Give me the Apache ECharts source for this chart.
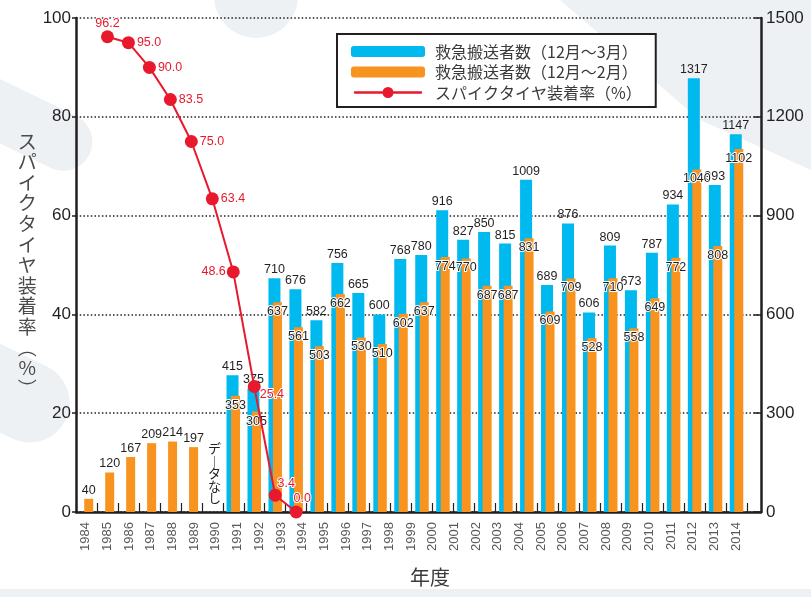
<!DOCTYPE html>
<html>
<head>
<meta charset="utf-8">
<script src="https://cdn.jsdelivr.net/npm/echarts@6/dist/echarts.min.js"></script>
<style>
  html, body { margin: 0; padding: 0; background: #fff; }
  #chart { width: 811px; height: 597px; }
</style>
</head>
<body>
<div id="chart"></div>
<script>
// 年度ラベル
const yearLabels = ['1984', '1985', '1986', '1987', '1988', '1989', '1990', '1991', '1992', '1993',
  '1994', '1995', '1996', '1997', '1998', '1999', '2000', '2001', '2002', '2003', '2004', '2005',
  '2006', '2007', '2008', '2009', '2010', '2011', '2012', '2013', '2014'];
// 救急搬送者数（12月～3月）
const blue = [null, null, null, null, null, null, null, 415, 375, 710, 676, 582, 756, 665, 600, 768,
  780, 916, 827, 850, 815, 1009, 689, 876, 606, 809, 673, 787, 934, 1317, 993, 1147];
// 救急搬送者数（12月～2月）
const orange = [40, 120, 167, 209, 214, 197, null, 353, 305, 637, 561, 503, 662, 530, 510, 602,
  637, 774, 770, 687, 687, 831, 609, 709, 528, 710, 558, 649, 772, 1040, 808, 1102];
// スパイクタイヤ装着率（%）
const spike = [null, 96.2, 95.0, 90.0, 83.5, 75.0, 63.4, 48.6, 25.4, 3.4, 0.0];
const leftTicks = [0, 20, 40, 60, 80, 100];
const rightTicks = [0, 300, 600, 900, 1200, 1500];
const noDataSlot = 6;

const FONT = 'Arial, "Liberation Sans", sans-serif';
const JP = '"Noto Sans CJK JP", sans-serif';
const DARK = '#231f20';
const RED = '#e8192c';

// 赤ラベルの置き方
const spikeLabel = [
  null,
  { position: 'top', distance: 0 },
  { position: 'right', distance: 2 },
  { position: 'right', distance: 2 },
  { position: 'right', distance: 2 },
  { position: 'right', distance: 2 },
  { position: 'right', distance: 2 },
  { position: 'left', distance: 1 },
  { position: 'right', distance: -1, offset: [0, 8] },
  { position: 'top', distance: -1, offset: [11, 0] },
  { position: 'top', distance: 0, offset: [6, 0] }
];

const slots = blue.map((_, i) => String(i));
const spikeData = slots.map((_, i) =>
  i < spike.length && spike[i] != null ? { value: spike[i], label: spikeLabel[i] } : null);
const orangeData = orange.map((v, i) =>
  blue[i] == null ? { value: v, label: { position: 'top', distance: 2 } } : v);

const vert = s => s.split('').join('\n');
// 凡例の線＋丸
const lineIcon = 'path://M0,4.6H74V7.4H0Z M31,6a6,6 0 1,1 12,0a6,6 0 1,1 -12,0Z';

const option = {
  animation: false,
  backgroundColor: '#fff',
  graphic: [
    { type: 'circle', z: -10, shape: { cx: 256, cy: -4, r: 42 }, style: { fill: '#edf1f4' } },
    { type: 'rect', z: -10, x: -60, y: 50, rotation: -0.45, shape: { width: 180, height: 58, r: 29 }, style: { fill: '#edf1f4' } },
    { type: 'rect', z: -10, x: -70, y: 310, rotation: -0.45, shape: { width: 170, height: 80, r: 40 }, style: { fill: '#edf1f4' } },
    { type: 'polygon', z: -10, shape: { points: [[560, 0], [811, 0], [811, 170], [700, 120]] }, style: { fill: '#edf1f4' } },
    { type: 'rect', z: -10, shape: { x: 0, y: 589, width: 811, height: 8 }, style: { fill: '#edf1f4' } }
  ],
  legend: {
    orient: 'vertical',
    left: 337,
    top: 34,
    padding: [8, 14, 5, 14],
    itemWidth: 74,
    itemHeight: 11,
    itemGap: 1.5,
    backgroundColor: '#fff',
    borderColor: DARK,
    borderWidth: 2,
    textStyle: { fontFamily: JP, fontSize: 16, lineHeight: 19, color: '#3a3a3a', padding: [0, 0, 0, 5] },
    data: [
      '救急搬送者数（12月～3月）',
      '救急搬送者数（12月～2月）',
      { name: 'スパイクタイヤ装着率（%）', icon: lineIcon }
    ]
  },
  grid: [
    { left: 76, top: 18, width: 685, height: 494 },   // 枠
    { left: 76, top: 18, width: 671, height: 494 },   // 棒・折れ線
    { left: 75, top: 18, width: 672, height: 494 }    // 年度ラベル
  ],
  xAxis: [
    {
      gridIndex: 0, type: 'value', min: 0, max: 1,
      axisLine: { show: true, lineStyle: { color: DARK, width: 2.5 } },
      axisTick: { show: false }, axisLabel: { show: false }, splitLine: { show: false },
      name: '年度', nameLocation: 'middle', nameGap: 55,
      nameTextStyle: { fontFamily: JP, fontSize: 20, color: '#3a3a3a', padding: [0, 0, 0, 23] }
    },
    {
      gridIndex: 1, type: 'category', data: slots,
      axisLine: { show: false },
      axisTick: { show: true, inside: true, length: 9, lineStyle: { color: DARK, width: 1.2 } },
      axisLabel: { show: false }
    },
    {
      gridIndex: 2, type: 'category', data: yearLabels,
      axisLine: { show: false }, axisTick: { show: false },
      axisLabel: { rotate: 90, margin: 10, fontSize: 13, color: '#58595b', fontFamily: FONT, interval: 0 }
    }
  ],
  yAxis: [
    {
      gridIndex: 0, type: 'value', min: leftTicks[0], max: leftTicks[leftTicks.length - 1],
      interval: leftTicks[1] - leftTicks[0],
      axisLine: { show: true, lineStyle: { color: DARK, width: 2.5 } },
      axisTick: { show: true, length: 4, lineStyle: { color: DARK, width: 1.5 } },
      axisLabel: { margin: 5, fontSize: 17, color: DARK, fontFamily: FONT },
      splitLine: { show: true, lineStyle: { color: DARK, width: 1.5, type: [1.5, 2.2] } },
      name: vert('スパイクタイヤ装着率︵%︶'), nameLocation: 'middle', nameRotate: 0, nameGap: 40,
      nameTextStyle: { fontFamily: JP, fontSize: 19, lineHeight: 20.6, color: '#4a4a4a', align: 'center', width: 22 }
    },
    {
      gridIndex: 0, type: 'value', position: 'right',
      min: rightTicks[0], max: rightTicks[rightTicks.length - 1], interval: rightTicks[1] - rightTicks[0],
      axisLine: { show: true, lineStyle: { color: DARK, width: 2.5 } },
      axisTick: { show: true, inside: true, length: 7, lineStyle: { color: DARK, width: 1.5 } },
      axisLabel: { margin: 5, fontSize: 17, color: DARK, fontFamily: FONT, formatter: v => String(v) },
      splitLine: { show: false }
    },
    { gridIndex: 1, type: 'value', show: false, min: leftTicks[0], max: leftTicks[leftTicks.length - 1] },
    { gridIndex: 1, type: 'value', show: false, min: rightTicks[0], max: rightTicks[rightTicks.length - 1] },
    { gridIndex: 2, type: 'value', show: false }
  ],
  series: [
    {
      name: '救急搬送者数（12月～3月）',
      type: 'bar', xAxisIndex: 1, yAxisIndex: 3,
      data: blue,
      barWidth: 12,
      barGap: '-62.5%',
      itemStyle: { color: '#00b9ef' },
      label: { show: true, position: 'top', distance: 2, fontSize: 12.5, color: DARK, fontFamily: FONT }
    },
    {
      name: '救急搬送者数（12月～2月）',
      type: 'bar', xAxisIndex: 1, yAxisIndex: 3,
      data: orangeData,
      barWidth: 9,
      itemStyle: { color: '#f7931e' },
      label: {
        show: true, position: 'insideTop', distance: 3, fontSize: 12.5, color: DARK, fontFamily: FONT,
        textBorderColor: '#fff', textBorderWidth: 2
      },
      markPoint: {
        symbol: 'rect', symbolSize: 1,
        itemStyle: { color: 'rgba(0,0,0,0)' },
        label: {
          show: true, position: 'top', distance: 7, formatter: vert('デ︱タなし'),
          fontFamily: JP, fontSize: 13, lineHeight: 12.5, color: DARK
        },
        data: [{ coord: [noDataSlot, 0] }]
      }
    },
    {
      name: 'スパイクタイヤ装着率（%）',
      type: 'line', xAxisIndex: 1, yAxisIndex: 2,
      data: spikeData,
      symbol: 'circle', symbolSize: 13,
      lineStyle: { color: RED, width: 2 },
      itemStyle: { color: RED },
      label: {
        show: true, fontSize: 12.5, color: RED, fontFamily: FONT,
        textBorderColor: '#fff', textBorderWidth: 2,
        formatter: p => p.value.toFixed(1)
      },
      z: 5
    }
  ]
};

const chart = echarts.init(document.getElementById('chart'));
chart.setOption(option);
</script>
</body>
</html>
